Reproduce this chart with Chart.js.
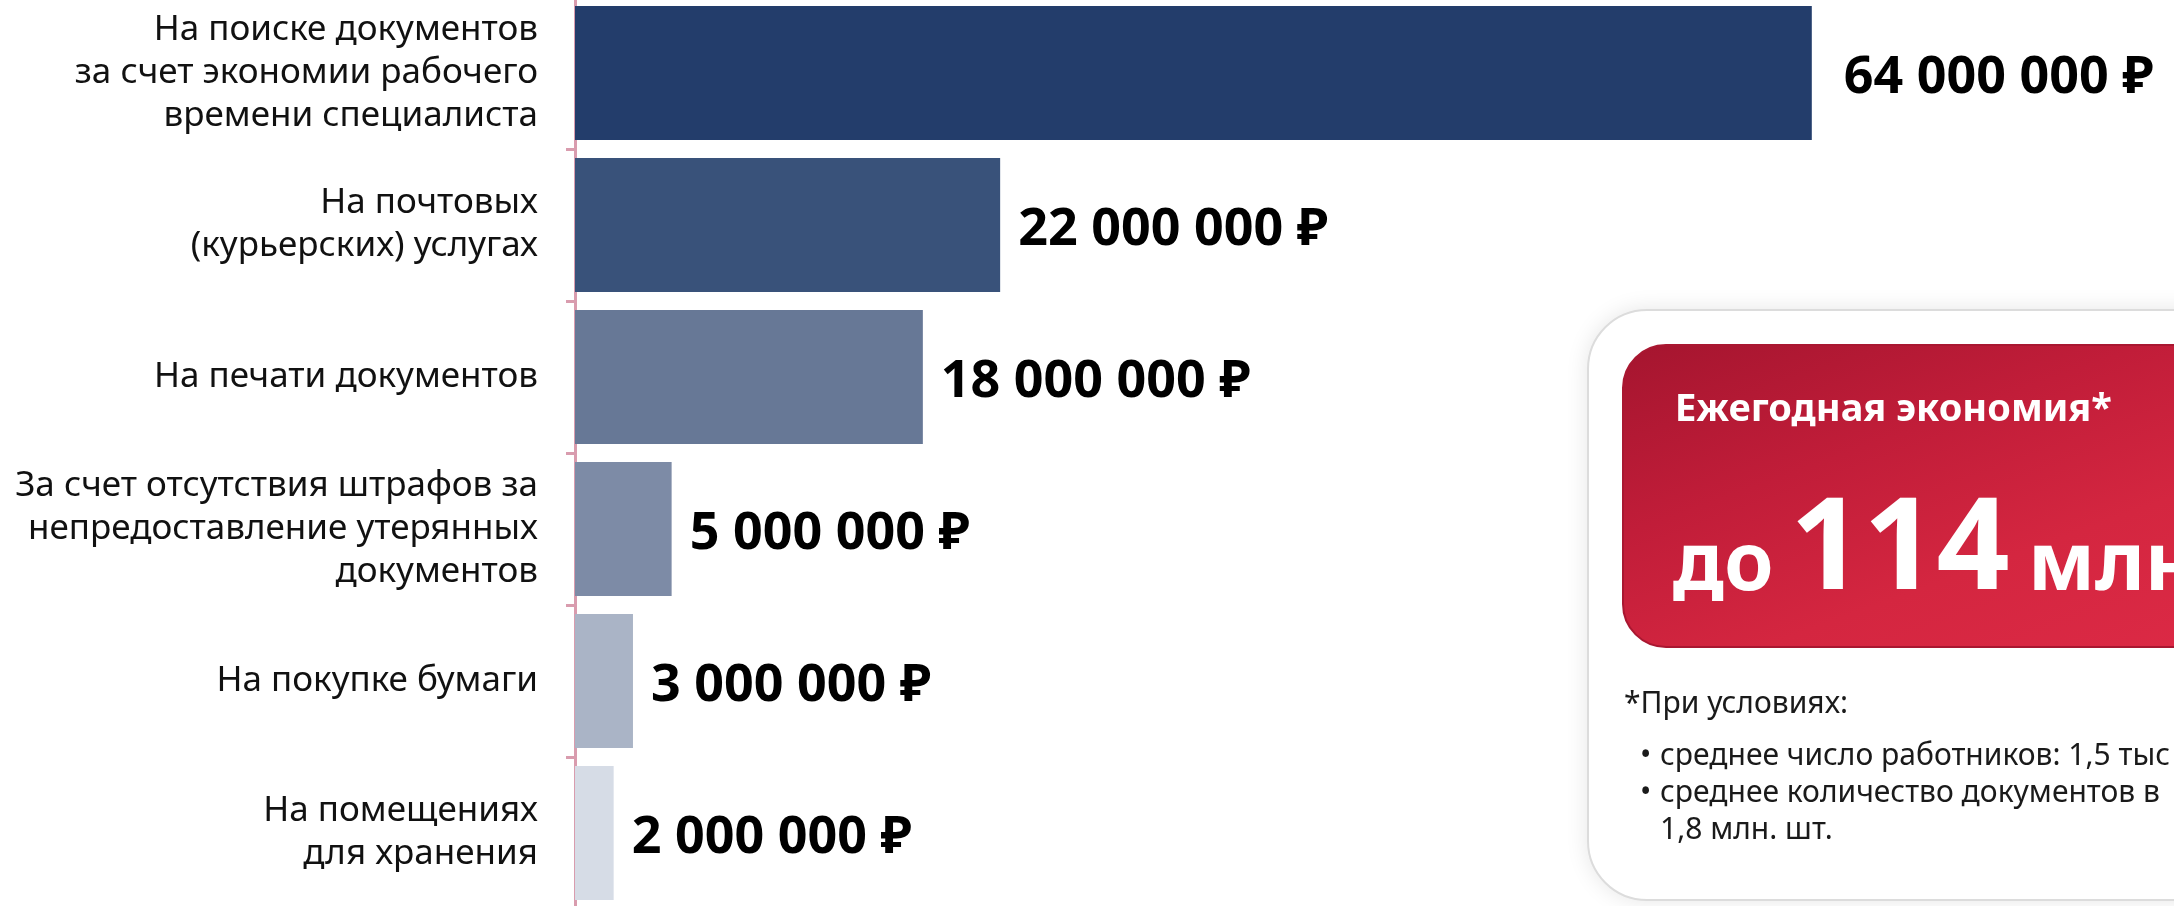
<!DOCTYPE html>
<html lang="ru">
<head>
<meta charset="utf-8">
<script src="https://cdn.jsdelivr.net/npm/chart.js@4.4.1/dist/chart.umd.min.js"></script>
<style>
  html, body { margin: 0; padding: 0; background: #fff; overflow: hidden; }
  body { width: 2174px; height: 906px; position: relative; font-family: "Noto Sans", sans-serif; }
  #wrap { position: absolute; left: 0; top: -3px; width: 2174px; height: 912px; }
  .panel {
    position: absolute; left: 1587px; top: 309px; width: 720px; height: 588px;
    border: 2px solid #dcdcdc; border-radius: 60px; background: #fff;
    box-shadow: 0 0 22px rgba(0,0,0,0.10);
  }
  .redbox {
    position: absolute; left: 1622px; top: 344px; width: 660px; height: 300px;
    border: 2px solid #a91731; border-radius: 44px;
    background: linear-gradient(160deg, #a5152f 0%, #c11d39 35%, #d42640 65%, #dd2a46 100%);
  }
  .txt { position: absolute; white-space: nowrap; line-height: 1; color: #fff; font-weight: 700; }
  .note { position: absolute; white-space: nowrap; color: #1a1a1a; font-size: 30px; line-height: 37px; }
  .bul { display: inline-block; width: 20px; }
</style>
</head>
<body>
<div id="wrap"><canvas id="myChart"></canvas></div>

<div class="panel"></div>
<div class="redbox"></div>
<div class="txt" style="left:1675px; top:387px; font-size:38px;">Ежегодная экономия*</div>
<div class="txt" style="left:1673px; top:519px; font-size:80px;">до</div>
<div class="txt" style="left:1790px; top:476px; font-size:128px;">114</div>
<div class="txt" style="left:2028px; top:519px; font-size:80px;">млн</div>

<div class="note" style="left:1624px; top:683px;">*При условиях:</div>
<div class="note" style="left:1640px; top:735px;"><span class="bul">•</span>среднее число работников: 1,5 тыс</div>
<div class="note" style="left:1640px; top:772px;"><span class="bul">•</span>среднее количество документов в</div>
<div class="note" style="left:1660px; top:809px;">1,8 млн. шт.</div>

<script>
const categories = [
  ["На поиске документов", "за счет экономии рабочего", "времени специалиста"],
  ["На почтовых", "(курьерских) услугах"],
  "На печати документов",
  ["За счет отсутствия штрафов за", "непредоставление утерянных", "документов"],
  "На покупке бумаги",
  ["На помещениях", "для хранения"]
]
const savings = [64000000, 22000000, 18000000, 5000000, 3000000, 2000000]
const barColors = ["#233d6b", "#39527a", "#677896", "#7d8ba6", "#aab4c6", "#d6dce6"]

function rub(v) {
  return String(v).replace(/\B(?=(\d{3})+(?!\d))/g, " ") + " ₽"
}

// подписи значений справа от столбцов
const valueLabels = {
  id: "valueLabels",
  afterDatasetsDraw(chart) {
    const ctx = chart.ctx
    const meta = chart.getDatasetMeta(0)
    ctx.save()
    ctx.font = "bold 52px 'Noto Sans', sans-serif"
    ctx.fillStyle = "#000"
    ctx.textAlign = "left"
    ctx.textBaseline = "middle"
    meta.data.forEach((bar, i) => {
      const gap = i === 0 ? 32 : 18
      ctx.fillText(rub(savings[i]), bar.x + gap, bar.y + 5)
    })
    ctx.restore()
  }
}

const data = {
  labels: categories,
  datasets: [{
    data: savings,
    backgroundColor: barColors,
    borderWidth: 0,
    categoryPercentage: 1,
    barPercentage: 0.883
  }]
}

const config = {
  type: "bar",
  data: data,
  options: {
    indexAxis: "y",
    responsive: true,
    maintainAspectRatio: false,
    animation: false,
    layout: { padding: { left: 0, right: 53, top: 0, bottom: 0 } },
    plugins: { legend: { display: false }, tooltip: { enabled: false } },
    scales: {
      x: { display: false, min: 0, max: 80000000 },
      y: {
        z: 1,
        offset: true,
        border: { display: true, color: "#d99cae", width: 3 },
        grid: { drawOnChartArea: false, drawTicks: true, tickLength: 9, tickColor: "#d99cae", tickWidth: 3, offset: true },
        ticks: {
          padding: 28,
          color: "#111",
          font: { family: "'Noto Sans', sans-serif", size: 35, lineHeight: 1.23 }
        },
        afterFit(scale) {
          scale.width = 575
          scale.paddingTop = 0
          scale.paddingBottom = 0
        }
      }
    }
  },
  plugins: [valueLabels]
}

new Chart(document.getElementById("myChart"), config)
</script>
</body>
</html>
